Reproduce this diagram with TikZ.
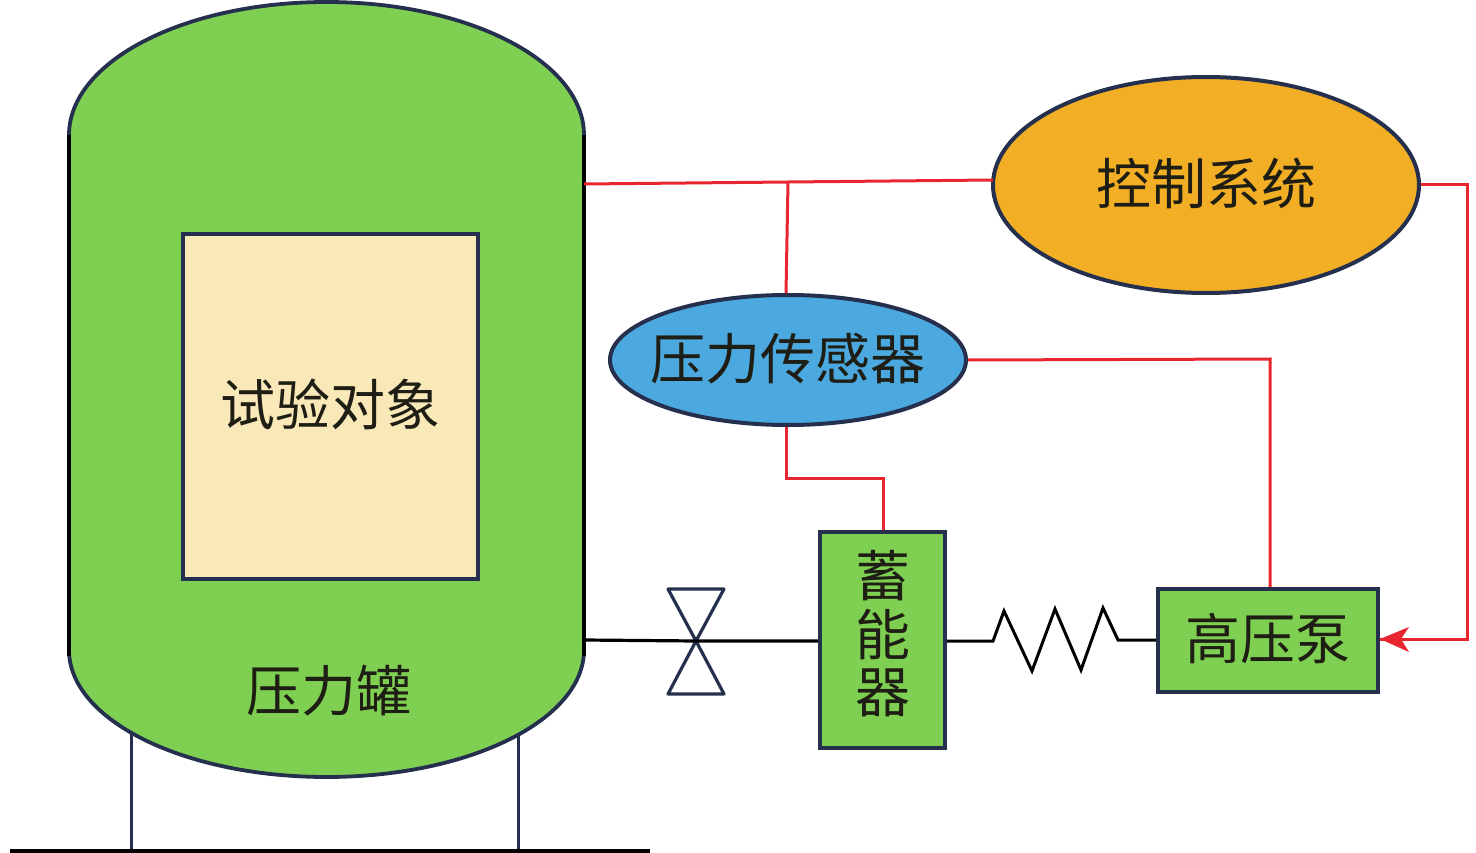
\documentclass[tikz,border=0pt]{standalone}
\usepackage{fontspec}
\newfontfamily\cjk{Noto Sans CJK SC}
\usetikzlibrary{shapes.geometric,arrows.meta}
\definecolor{navy}{HTML}{25304F}
\definecolor{tankgreen}{HTML}{7FD052}
\definecolor{cream}{HTML}{F9E9B8}
\definecolor{sysorange}{HTML}{F2AE24}
\definecolor{sensblue}{HTML}{4BA9E0}
\definecolor{sigred}{HTML}{E8262F}
\definecolor{ink}{HTML}{1E1E14}
\newcommand\liftup[1]{\raisebox{8pt}{#1}}
\tikzset{
  lbl/.style={font=\cjk\fontsize{55}{58}\selectfont,text=ink,inner sep=0pt},
  boxn/.style={draw=navy,line width=4pt,fill=tankgreen,minimum width=#1,inner sep=0pt},
  ell/.style={ellipse,draw=navy,line width=4pt,inner sep=0pt},
  sig/.style={draw=sigred,line width=3pt},
  pipe/.style={draw=black,line width=3.2pt},
  leg/.style={draw=navy,line width=3pt},
  valveline/.style={draw=navy,line width=3.2pt,line join=round}
}
\begin{document}
\begin{tikzpicture}[x=1pt,y=-1pt]
\useasboundingbox (0,0) rectangle (1476,853);
% supports
\coordinate (legA) at (131,730);
\coordinate (legB) at (518,730);
\coordinate (groundL) at (10,851);
\coordinate (groundR) at (650,851);
\coordinate (legAf) at (131,851);
\coordinate (legBf) at (518,851);
\draw[leg] (legA) -- (legAf);
\draw[leg] (legB) -- (legBf);
\draw[draw=black,line width=3.2pt] (groundL) -- (groundR);
% tank
\fill[tankgreen] (69,135) .. controls (69,61.5) and (184.3,2) .. (326.5,2) .. controls (468.7,2) and (584,61.5) .. (584,135) -- (584,650) .. controls (584,720.1) and (468.7,777) .. (326.5,777) .. controls (184.3,777) and (69,720.1) .. (69,650) -- cycle;
\draw[navy,line width=3.8pt] (69,135) .. controls (69,61.5) and (184.3,2) .. (326.5,2) .. controls (468.7,2) and (584,61.5) .. (584,135);
\draw[navy,line width=3.8pt] (584,650) .. controls (584,720.1) and (468.7,777) .. (326.5,777) .. controls (184.3,777) and (69,720.1) .. (69,650);
\draw[black,line width=3.2pt] (69,135) -- (69,656);
\draw[black,line width=3.2pt] (584,135) -- (584,656);
\coordinate (tankSig) at (584,184);
\coordinate (tankPipe) at (584,640);
\node[lbl] (tanklabel) at (329,691) {压力罐};
% test object
\node[draw=navy,line width=4pt,fill=cream,minimum width=295pt,minimum height=345pt,inner sep=0pt,lbl] (obj) at (330.5,406.5) {\liftup{试验对象}};
% control & sensor
\node[ell,fill=sysorange,minimum width=426pt,minimum height=216pt,lbl,inner xsep=-30pt] (ctrl) at (1206,185) {\liftup{控制系统}};
\node[ell,fill=sensblue,minimum width=356pt,minimum height=130pt,lbl,inner xsep=-60pt] (sens) at (788,360) {\liftup{压力传感器}};
% accumulator and pump
\node[boxn=125pt,minimum height=216pt,lbl] (acc) at (882.5,640) {\begin{tabular}{@{}c@{}}蓄\\[-4pt]能\\[-4pt]器\end{tabular}};
\node[boxn=220pt,minimum height=103pt,lbl] (pump) at (1268,640.5) {\liftup{高压泵}};
% valve
\coordinate (vc) at (696,641);
\coordinate (v1) at (668,589);
\coordinate (v2) at (724,589);
\coordinate (v3) at (668,694);
\coordinate (v4) at (724,694);
\draw[valveline] (vc) -- (v1) -- (v2) -- cycle;
\draw[valveline] (vc) -- (v3) -- (v4) -- cycle;
% pipes
\draw[pipe] (tankPipe) -- (vc) -- (acc.west |- vc);
\coordinate (s0) at (993,641);
\coordinate (s1) at (1004,611);
\coordinate (s2) at (1032,671);
\coordinate (s3) at (1055,609);
\coordinate (s4) at (1081,670);
\coordinate (s5) at (1103,608);
\coordinate (s6) at (1118,640);
\draw[pipe,line join=miter,line width=3pt] (acc.east |- s0) -- (s0) -- (s1) -- (s2) -- (s3) -- (s4) -- (s5) -- (s6) -- (pump.west |- s6);
% signals
\coordinate (tee) at (788,182);
\coordinate (ctrlW) at (993,180);
\coordinate (a1) at (786,478);
\coordinate (a2) at (883,478);
\coordinate (b1) at (1270,359);
\coordinate (c1) at (1467,185);
\coordinate (c2) at (1467,639);
\draw[sig] (tankSig) -- (ctrlW);
\draw[sig] (tee) -- (sens.north -| 786,295);
\draw[sig] (sens.south -| a1) -- (a1) -- (a2) -- (acc.north -| a2);
\draw[sig] (sens.east) -- (b1) -- (pump.north -| b1);
\draw[sig] (ctrl.east) -- (c1) -- (c2) -- (pump.east |- c2);
\fill[sigred] (1380,639) -- (1409,627) -- (1401,639) -- (1409,652) -- cycle;
\end{tikzpicture}
\end{document}
